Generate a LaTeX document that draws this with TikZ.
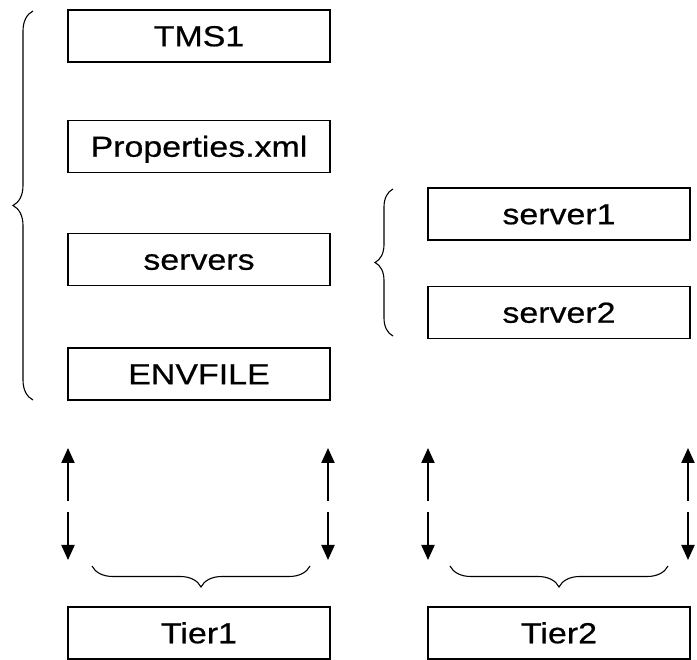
\documentclass[tikz,border=0pt]{standalone}
\usepackage{fontspec}
\newfontfamily\labfont[FakeStretch=1.17,FakeBold=0.6]{Liberation Sans}
\usetikzlibrary{arrows.meta,decorations.pathreplacing}
\begin{document}
\begin{tikzpicture}[x=1pt,y=-1pt,
  box/.style={draw,line width=1.8pt,minimum width=262pt,minimum height=52pt,inner sep=0pt,
    text height=20.5pt,text depth=0pt,font=\labfont\fontsize{29}{31}\selectfont},
  brc/.style={decorate,decoration={brace,amplitude=#1},line width=1.1pt},
  arr/.style={line width=2pt,-{Triangle[length=15pt,width=13pt]}}]
\useasboundingbox (0,0) rectangle (697,660);
\node[box] (tms) at (199,36) {TMS1};
\node[box] (prop) at (199,146.5) {Properties.xml};
\node[box] (srv) at (199,259.5) {servers};
\node[box] (env) at (199,374) {ENVFILE};
\node[box] (s1) at (559,214) {server1};
\node[box] (s2) at (559,312.5) {server2};
\node[box] (t1) at (199,633) {Tier1};
\node[box] (t2) at (559,633) {Tier2};
% braces
\coordinate (lb1) at (33,400); \coordinate (lb2) at (33,11);
\draw[brc=20pt] (lb1) -- (lb2);
\coordinate (rb1) at (393,336); \coordinate (rb2) at (393,189);
\draw[brc=18pt] (rb1) -- (rb2);
\coordinate (tb1a) at (310,566); \coordinate (tb1b) at (92,566);
\draw[brc=21pt] (tb1a) -- (tb1b);
\coordinate (tb2a) at (668,566); \coordinate (tb2b) at (450,566);
\draw[brc=21pt] (tb2a) -- (tb2b);
% arrows
\foreach \i/\x in {1/68,2/328,3/428,4/688}{
  \coordinate (u\i) at (\x,501); \coordinate (ut\i) at (\x,448);
  \coordinate (d\i) at (\x,512); \coordinate (dt\i) at (\x,560);
  \draw[arr] (u\i) -- (ut\i);
  \draw[arr] (d\i) -- (dt\i);
}
\end{tikzpicture}
\end{document}
